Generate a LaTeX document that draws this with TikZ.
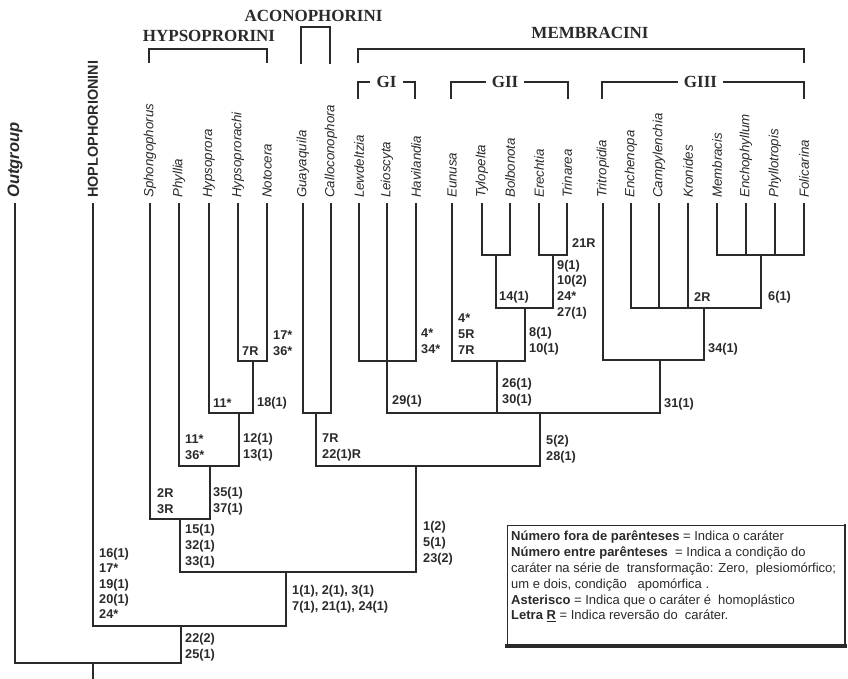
\documentclass[tikz,border=0pt]{standalone}
\usepackage{fontspec}
\setmainfont{Liberation Sans}
\newfontfamily\serifhead{Liberation Serif}
\definecolor{ink}{HTML}{2A2A2A}
\begin{document}
\begin{tikzpicture}[x=1pt,y=-1pt,color=ink,
  taxon/.style={rotate=90, anchor=west, inner sep=0pt, font=\fontsize{13.3}{14}\selectfont\itshape},
  ch/.style={anchor=west, inner sep=0pt, align=left, font=\fontsize{12.7}{15.8}\selectfont\bfseries},
  head/.style={inner sep=0pt, font=\fontsize{17}{18}\selectfont\serifhead\bfseries},
  grp/.style={inner xsep=6pt, inner ysep=0pt, font=\fontsize{17}{18}\selectfont\serifhead\bfseries},
  branch/.style={line width=2.2pt, line join=miter},
  legendtext/.style={anchor=north west, inner sep=0pt, align=left, font=\fontsize{13}{15.8}\selectfont}]
\useasboundingbox[fill=white] (0,0) rectangle (848,679);

% taxa
\node[taxon, font=\fontsize{16.5}{17}\selectfont\bfseries\itshape] (lout) at (15,198) {Outgroup};
\node[taxon, font=\fontsize{14.4}{15}\selectfont\bfseries] (lhop) at (93,198) {HOPLOPHORIONINI};
\foreach \n/\x/\t in {sph/150/Sphongophorus, phy/179/Phyllia, hyp/209/Hypsoprora,
  hyc/238/Hypsoprorachi, noc/267/Notocera, gua/303/Guayaquila, cal/331/Calloconophora,
  lew/359/Lewdeltzia, lei/387/Leioscyta, hav/416/Havilandia, eun/452/Eunusa,
  tyl/482/Tylopelta, bol/510/Bolbonota, ere/539/Erechtia, tri/567/Trinarea,
  trt/603/Tritropidia, enc/631/Enchenopa, cam/659/Campylenchia, kro/688/Kronides,
  mem/717/Membracis, ecp/746/Enchophyllum, phl/775/Phyllotropis, fol/804/Folicarina}
  {\node[taxon] (l\n) at (\x,198) {\t};}
\foreach \n/\x in {out/15, hop/93, sph/150, phy/179, hyp/209, hyc/238, noc/267, gua/303,
  cal/331, lew/359, lei/387, hav/416, eun/452, tyl/482, bol/510, ere/539, tri/567,
  trt/603, enc/631, cam/659, kro/688, mem/717, ecp/746, phl/775, fol/804}
  {\coordinate (\n) at (\x,203);}

% internal nodes
\coordinate (nTB) at (496,255);
\coordinate (nET) at (553,255);
\coordinate (n14) at (525,308);
\coordinate (nGII) at (497,361);
\coordinate (nGI) at (387,361);
\coordinate (nMem) at (761,255);
\coordinate (n34) at (704,308);
\coordinate (nGIII) at (660,360);
\coordinate (nMbr) at (540,413);
\coordinate (nAco) at (316,413);
\coordinate (nAM) at (416,466);
\coordinate (nHN) at (253,361);
\coordinate (n18) at (239,413);
\coordinate (n12) at (210,466);
\coordinate (n35) at (180,519);
\coordinate (n1) at (286,572);
\coordinate (n16) at (181,626);
\coordinate (nR) at (93,663);
\coordinate (root) at (93,679);

\begin{scope}[branch]
\foreach \c/\p in {tyl/nTB, bol/nTB, ere/nET, tri/nET, nTB/n14, nET/n14,
  eun/nGII, n14/nGII, lew/nGI, lei/nGI, hav/nGI,
  mem/nMem, ecp/nMem, phl/nMem, fol/nMem,
  enc/n34, cam/n34, kro/n34, nMem/n34, trt/nGIII, n34/nGIII,
  nGI/nMbr, nGII/nMbr, nGIII/nMbr, gua/nAco, cal/nAco, nAco/nAM, nMbr/nAM,
  hyc/nHN, noc/nHN, hyp/n18, nHN/n18, phy/n12, n18/n12, sph/n35, n12/n35,
  n35/n1, nAM/n1, hop/n16, n1/n16, out/nR, n16/nR}
  {\draw (\c) |- (\p);}
\draw (nR) -- (root);
\end{scope}

% character labels
\node[ch] (c1) at (572,243) {21R};
\node[ch] (c2) at (557,289.5) {9(1)\\10(2)\\24*\\27(1)};
\node[ch] (c3) at (499,297) {14(1)};
\node[ch] (c4) at (458,334) {4*\\5R\\7R};
\node[ch] (c5) at (529,341) {8(1)\\10(1)};
\node[ch] (c6) at (421,341.5) {4*\\34*};
\node[ch] (c7) at (392,401) {29(1)};
\node[ch] (c8) at (502,392.5) {26(1)\\30(1)};
\node[ch] (c9) at (694,297) {2R};
\node[ch] (c10) at (768,297) {6(1)};
\node[ch] (c11) at (708,349) {34(1)};
\node[ch] (c12) at (664,404) {31(1)};
\node[ch] (c13) at (546,449.5) {5(2)\\28(1)};
\node[ch] (c14) at (322,447.5) {7R\\22(1)R};
\node[ch] (c15) at (242,351) {7R};
\node[ch] (c16) at (273,343.5) {17*\\36*};
\node[ch] (c17) at (213,403) {11*};
\node[ch] (c18) at (257,403) {18(1)};
\node[ch] (c19) at (185,447.5) {11*\\36*};
\node[ch] (c20) at (243,447.5) {12(1)\\13(1)};
\node[ch] (c21) at (157,501) {2R\\3R};
\node[ch] (c22) at (213,501) {35(1)\\37(1)};
\node[ch] (c23) at (185,546) {15(1)\\32(1)\\33(1)};
\node[ch] (c24) at (423,543.5) {1(2)\\5(1)\\23(2)};
\node[ch] (c25) at (292,599) {1(1), 2(1), 3(1)\\7(1), 21(1), 24(1)};
\node[ch, font=\fontsize{12.7}{15.2}\selectfont\bfseries] (c26) at (99,583.5) {16(1)\\17*\\19(1)\\20(1)\\24*};
\node[ch] (c27) at (185,647.5) {22(2)\\25(1)};

% headers
\node[head] (hypH) at (209,36) {HYPSOPRORINI};
\node[head] (acoH) at (313.5,16) {ACONOPHORINI};
\node[head] (memH) at (590,33) {MEMBRACINI};
\coordinate (hypA) at (149,63); \coordinate (hypT) at (267,49); \coordinate (hypB) at (267,63);
\coordinate (acoA) at (301,64); \coordinate (acoT) at (330,27); \coordinate (acoB) at (330,64);
\coordinate (memA) at (358,63); \coordinate (memT) at (804,49); \coordinate (memB) at (804,63);
\begin{scope}[branch]
\draw (hypA) |- (hypT) -- (hypB);
\draw (acoA) |- (acoT) -- (acoB);
\draw (memA) |- (memT) -- (memB);
\end{scope}

\node[grp] (gI) at (386.5,82) {GI};
\node[grp] (gII) at (505,82) {GII};
\node[grp] (gIII) at (700.5,82) {GIII};
\coordinate (gIa) at (358,99); \coordinate (gIb) at (415,99);
\coordinate (gIIa) at (451,99); \coordinate (gIIb) at (568,99);
\coordinate (gIIIa) at (602,99); \coordinate (gIIIb) at (804,99);
\begin{scope}[branch]
\draw (gIa) |- (gI.west); \draw (gIb) |- (gI.east);
\draw (gIIa) |- (gII.west); \draw (gIIb) |- (gII.east);
\draw (gIIIa) |- (gIII.west); \draw (gIIIb) |- (gIII.east);
\end{scope}

% legend
\node[draw, line width=1pt, anchor=north west, inner sep=0pt, minimum width=337pt, minimum height=120pt] (legbox) at (507,525) {};
\draw[line width=4pt, line cap=rect] (legbox.south west) -- (legbox.south east);
\draw[line width=2.5pt, line cap=rect] (legbox.south east) -- (legbox.north east);
\node[legendtext] (legtxt) at (511,531) {%
\textbf{Número fora de parênteses} = Indica o caráter\\
\textbf{Número entre parênteses}\ \ = Indica a condição do\\
caráter na série de\ \ transformação: Zero,\ \ plesiomórfico;\\
um e dois, condição\ \ \ apomórfica .\\
\textbf{Asterisco} = Indica que o caráter é\ \ homoplástico\\
\textbf{Letra \underline{R}} = Indica reversão do\ \ caráter.};
\end{tikzpicture}
\end{document}
